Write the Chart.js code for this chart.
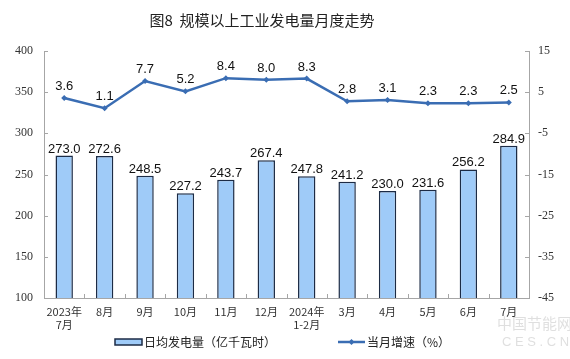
<!DOCTYPE html>
<html><head><meta charset="utf-8">
<script src="https://cdn.jsdelivr.net/npm/chart.js@4"></script>
<style>html,body{margin:0;padding:0;background:#fff}#wrap{width:570px;height:359px;position:relative}</style>
</head><body><div id="wrap"><canvas id="c" width="570" height="359"></canvas></div>
<script>
const categories = [["2023年","7月"],"8月","9月","10月","11月","12月",["2024年","1-2月"],"3月","4月","5月","6月","7月"];
const dailyGen = [273.0,272.6,248.5,227.2,243.7,267.4,247.8,241.2,230.0,231.6,256.2,284.9];
const growth = [3.6,1.1,7.7,5.2,8.4,8.0,8.3,2.8,3.1,2.3,2.3,2.5];
const leftTicks = [100,150,200,250,300,350,400];
const rightTicks = [-45,-35,-25,-15,-5,5,15];
const barName = "日均发电量（亿千瓦时）";
const lineName = "当月增速（%）";
const titleText = "图8  规模以上工业发电量月度走势";

const BAR_FILL = "#9FCBF8", BAR_EDGE = "#1C2B45", LINE_C = "#3A6DB3", AXIS_C = "#A6A6A6";
const CJK = "'Noto Sans CJK SC','Noto Sans',sans-serif";
const SERIF = "'Liberation Serif','DejaVu Serif',serif";

const deco = {
  id: 'deco',
  afterDraw(chart) {
    const ctx = chart.ctx, a = chart.chartArea;
    const x = chart.scales.x, y = chart.scales.y, y1 = chart.scales.y1;
    ctx.save();
    ctx.fillStyle = "#222"; ctx.font = "15px " + CJK;
    ctx.textAlign = "center"; ctx.textBaseline = "middle";
    ctx.fillText(titleText, 262, 20);
    ctx.strokeStyle = AXIS_C; ctx.lineWidth = 1;
    ctx.beginPath();
    leftTicks.forEach(v => { const p = Math.round(y.getPixelForValue(v)) + 0.5; ctx.moveTo(a.left, p); ctx.lineTo(a.left + 4, p); });
    rightTicks.forEach(v => { const p = Math.round(y1.getPixelForValue(v)) + 0.5; ctx.moveTo(a.right - 4, p); ctx.lineTo(a.right, p); });
    for (let i = 0; i <= categories.length; i++) {
      let px;
      if (i === 0) px = a.left; else if (i === categories.length) px = a.right;
      else px = (x.getPixelForValue(i - 1) + x.getPixelForValue(i)) / 2;
      px = Math.round(px) + 0.5;
      ctx.moveTo(px, a.bottom); ctx.lineTo(px, a.bottom - 4);
    }
    ctx.stroke();
    ctx.fillStyle = "#111"; ctx.font = "13px 'Liberation Sans',Arial,sans-serif";
    ctx.textAlign = "center"; ctx.textBaseline = "alphabetic";
    chart.getDatasetMeta(0).data.forEach((el, i) => {
      ctx.fillText(dailyGen[i].toFixed(1), el.x, el.y - 3);
    });
    chart.getDatasetMeta(1).data.forEach((el, i) => {
      ctx.fillText(growth[i].toFixed(1), el.x, el.y - 8);
    });
    const ly = 342;
    ctx.fillStyle = BAR_FILL; ctx.fillRect(115, ly - 3, 27, 6);
    ctx.strokeStyle = BAR_EDGE; ctx.lineWidth = 1.5; ctx.strokeRect(115, ly - 3, 27, 6);
    ctx.fillStyle = "#222"; ctx.font = "12px " + CJK; ctx.textAlign = "left"; ctx.textBaseline = "middle";
    ctx.fillText(barName, 144, ly);
    ctx.strokeStyle = LINE_C; ctx.lineWidth = 2.5;
    ctx.beginPath(); ctx.moveTo(338, ly); ctx.lineTo(365, ly); ctx.stroke();
    ctx.fillStyle = LINE_C; ctx.beginPath();
    ctx.moveTo(351.5, ly - 3); ctx.lineTo(354.5, ly); ctx.lineTo(351.5, ly + 3); ctx.lineTo(348.5, ly); ctx.closePath(); ctx.fill();
    ctx.fillStyle = "#222"; ctx.fillText(lineName, 367, ly);
    ctx.fillStyle = "rgba(150,150,150,0.3)"; ctx.font = "15px " + CJK;
    ctx.fillText("中国节能网", 497, 323);
    ctx.font = "13px 'Liberation Sans',sans-serif";
    ctx.fillText("C E S . C N", 502, 342);
    ctx.restore();
  }
};

new Chart(document.getElementById('c'), {
  data: {
    labels: categories,
    datasets: [
      { type: 'bar', label: barName, data: dailyGen, yAxisID: 'y', backgroundColor: BAR_FILL, borderColor: BAR_EDGE, borderWidth: 1.5, barPercentage: 0.43, categoryPercentage: 1, order: 2 },
      { type: 'line', label: lineName, data: growth, yAxisID: 'y1', borderColor: LINE_C, backgroundColor: LINE_C, borderWidth: 2.5, pointStyle: 'rectRot', pointRadius: 3, pointBorderWidth: 0, tension: 0, order: 1 }
    ]
  },
  options: {
    responsive: false, animation: false,
    layout: { padding: { top: 51, left: 0, right: 0, bottom: 0 } },
    plugins: { legend: { display: false }, title: { display: false }, tooltip: { enabled: false } },
    scales: {
      x: {
        offset: true,
        grid: { display: false, drawTicks: false },
        border: { display: true, color: AXIS_C },
        ticks: { padding: 7, color: "#333", font: { size: 11, family: CJK, lineHeight: 1.2 }, maxRotation: 0, autoSkip: false },
        afterFit(s) { s.height = 61; }
      },
      y: {
        position: 'left', min: 100, max: 400,
        afterBuildTicks(s) { s.ticks = leftTicks.map(v => ({ value: v })); },
        grid: { display: false, drawTicks: false },
        border: { display: true, color: AXIS_C },
        ticks: { padding: 11, color: "#333", font: { size: 12, family: SERIF } },
        afterFit(s) { s.width = 44; }
      },
      y1: {
        position: 'right', min: -45, max: 15,
        afterBuildTicks(s) { s.ticks = rightTicks.map(v => ({ value: v })); },
        grid: { display: false, drawTicks: false },
        border: { display: true, color: AXIS_C },
        ticks: { padding: 9, color: "#333", font: { size: 12, family: SERIF } },
        afterFit(s) { s.width = 41; }
      }
    }
  },
  plugins: [deco]
});
</script></body></html>
